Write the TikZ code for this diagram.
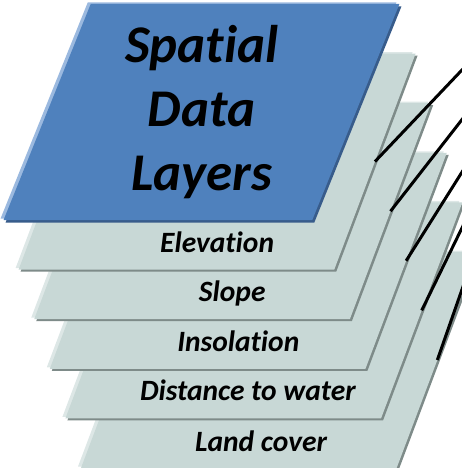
\documentclass[tikz,border=0pt]{standalone}
\usepackage{fontspec}
\setmainfont{Carlito}[Ligatures={TeX,NoCommon}]
\usetikzlibrary{calc,shapes.geometric,shadows}
\definecolor{topblue}{HTML}{4F81BD}
\definecolor{topblueedge}{HTML}{385C8B}
\definecolor{topbluelight}{HTML}{9BB9DF}
\definecolor{layergray}{HTML}{C8D8D6}
\definecolor{layergrayedge}{HTML}{7E8B89}
\definecolor{layergraylight}{HTML}{DDE7E6}
\tikzset{
  mylayer/.style = {trapezium, trapezium left angle=70.85, trapezium right angle=109.15,
    trapezium stretches=true, minimum width=397pt, minimum height=216pt,
    inner sep=1pt, outer sep=0pt},
  mygray/.style = {mylayer, fill=layergray,
    general shadow={shadow xshift=-3pt, shadow yshift=1.5pt, fill=layergraylight},
    general shadow={shadow xshift=2pt, shadow yshift=-2pt, fill=layergrayedge}},
  myblue/.style = {mylayer, fill=topblue, align=center,
    font=\fontsize{53}{64}\selectfont\bfseries\itshape,
    general shadow={shadow xshift=-3pt, shadow yshift=1.5pt, fill=topbluelight},
    general shadow={shadow xshift=2pt, shadow yshift=-2.5pt, fill=topblueedge}},
  mylabel/.style = {anchor=base, inner sep=0pt, font=\fontsize{29.5}{34}\selectfont\bfseries\itshape},
  myline/.style = {line width=3pt},
}
\begin{document}
\begin{tikzpicture}
\useasboundingbox (0,0) rectangle (462pt,-468pt);
\coordinate (base) at (201.5pt,-112pt);
% layers, back to front
\node[mygray] (cover) at ($(base)+5*(15.6pt,-49.6pt)$) {};
\node[mygray] (water) at ($(base)+4*(15.6pt,-49.6pt)$) {};
\node[mygray] (insol) at ($(base)+3*(15.6pt,-49.6pt)$) {};
\node[mygray] (slope) at ($(base)+2*(15.6pt,-49.6pt)$) {};
\node[mygray] (elev) at ($(base)+(15.6pt,-49.6pt)$) {};
\node[myblue] (spatial) at (base) {Spatial\\Data\\Layers};
% names on the visible strips
\node[mylabel] (elevlbl) at ($(elev.center)+(0pt,-90.5pt)$) {Elevation};
\node[mylabel] (slopelbl) at ($(slope.center)+(-0.5pt,-90.5pt)$) {Slope};
\node[mylabel] (insollbl) at ($(insol.center)+(-10pt,-91pt)$) {Insolation};
\node[mylabel] (waterlbl) at ($(water.center)+(-16pt,-90.5pt)$) {Distance to water};
\node[mylabel] (coverlbl) at ($(cover.center)+(-18.5pt,-91pt)$) {Land cover};
% leader lines running off to the right
\coordinate (tag1) at (480pt,-51pt);
\coordinate (tag2) at (480pt,-96.5pt);
\coordinate (tag3) at (480pt,-143.5pt);
\coordinate (tag4) at (480pt,-191pt);
\coordinate (tag5) at (480pt,-238pt);
\draw[myline] (tag1) -- (elev.east);
\draw[myline] (tag2) -- (slope.east);
\draw[myline] (tag3) -- (insol.east);
\draw[myline] (tag4) -- (water.east);
\draw[myline] (tag5) -- (cover.east);
\end{tikzpicture}
\end{document}
